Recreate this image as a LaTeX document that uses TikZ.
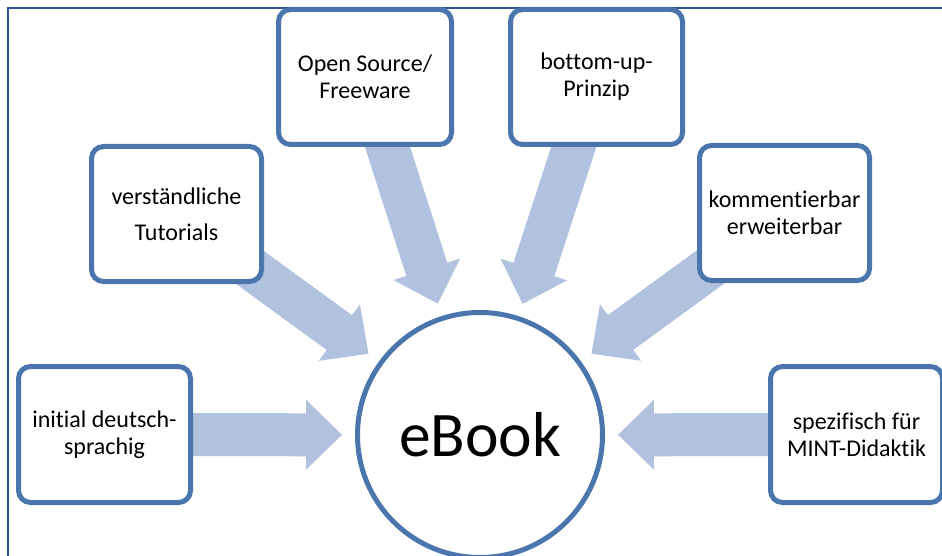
\documentclass[tikz,border=0pt]{standalone}
\usepackage{fontspec}
\setmainfont[Ligatures=NoCommon]{Carlito}
\usetikzlibrary{calc}
\pgfdeclarelayer{bg}
\pgfsetlayers{bg,main}
\definecolor{boxblue}{RGB}{74,118,173}
\definecolor{arrowblue}{RGB}{176,194,222}
\definecolor{frameblue}{RGB}{47,84,150}
\tikzset{
  topic/.style={draw=boxblue, line width=5pt, rounded corners=12pt, fill=white,
    minimum width=172pt, minimum height=135pt, align=center, inner sep=0pt,
    font=\fontsize{24}{27}\selectfont},
  hub/.style={circle, draw=boxblue, line width=5pt, fill=white, minimum size=245pt,
    inner sep=0pt, font=\fontsize{63.5}{70}\selectfont},
  fatarrow/.style={fill=arrowblue, draw=none},
  frameline/.style={draw=frameblue, line width=1.8pt}
}
\newcommand{\bigarrow}[2]{%
  \coordinate (T) at ($(#2.center)!138pt!(#1.center)$);
  \coordinate (B) at ($(T)!36pt!(#1.center)$);
  \fill[fatarrow] ($(#1.center)!21.5pt!90:(T)$) -- ($(B)!21.5pt!90:(T)$)
    -- ($(B)!35pt!90:(T)$) -- (T) -- ($(B)!35pt!-90:(T)$)
    -- ($(B)!21.5pt!-90:(T)$) -- ($(#1.center)!21.5pt!-90:(T)$) -- cycle;
}
\begin{document}
\begin{tikzpicture}[x=1pt, y=-1pt]
  \clip (0,0) rectangle (942,556);
  \node[hub] (ebook) at (480,435) {eBook};
  \node[topic, minimum width=173pt] (os) at (365,77) {Open Source/\\Freeware};
  \node[topic] (bu) at (596.5,77) {bottom-up-\\Prinzip};
  \node[topic, minimum width=170pt] (tut) at (176.5,214) {verständliche\\[9pt]Tutorials};
  \node[topic, minimum width=170pt] (kom) at (784.5,213) {kommentierbar\\erweiterbar};
  \node[topic, minimum height=136pt] (init) at (104.5,434.5) {initial deutsch-\\sprachig};
  \node[topic, minimum height=136pt] (mint) at (856.5,434.5) {spezifisch für\\MINT-Didaktik};
  \begin{pgfonlayer}{bg}
    \draw[frameline] (8,8) rectangle (980,620);
    \bigarrow{os}{ebook}
    \bigarrow{bu}{ebook}
    \bigarrow{tut}{ebook}
    \bigarrow{kom}{ebook}
    \bigarrow{init}{ebook}
    \bigarrow{mint}{ebook}
  \end{pgfonlayer}
\end{tikzpicture}
\end{document}
